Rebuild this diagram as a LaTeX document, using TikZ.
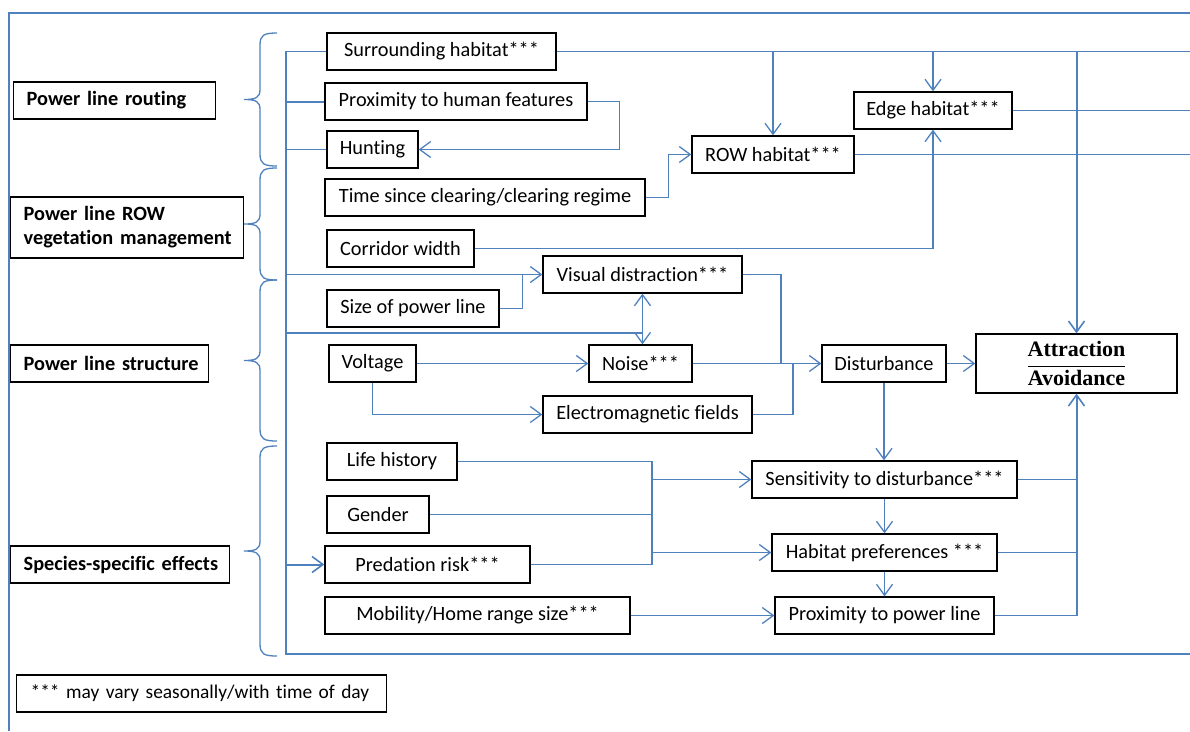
\documentclass[tikz,border=0pt]{standalone}
\usepackage{fontspec}
\setmainfont{Carlito}[Ligatures=NoCommon]
\newfontfamily\serifb{Liberation Serif}
\usetikzlibrary{arrows.meta,calc}
\definecolor{lblue}{HTML}{4F81BD}
\newcommand\mybrace[2]{%
  \draw[brc] (277,#1) .. controls (264,#1) and (260,#1+2) .. (260,#1+12)
    -- (260,{(#1+#2)/2-10}) .. controls (260,{(#1+#2)/2-2}) and (256,{(#1+#2)/2}) .. (244,{(#1+#2)/2})
    .. controls (256,{(#1+#2)/2}) and (260,{(#1+#2)/2+2}) .. (260,{(#1+#2)/2+10})
    -- (260,#2-12) .. controls (260,#2-2) and (264,#2) .. (277,#2);}
\begin{document}
\begin{tikzpicture}[x=1pt,y=-1pt,
  box/.style={draw=black, line width=1.3pt, fill=white, inner sep=0pt, minimum height=37pt, font=\fontsize{20.3}{23}\selectfont},
  lbl/.style={box, anchor=west, align=left, inner xsep=13pt, font=\fontsize{20.3}{24}\selectfont\bfseries},
  ln/.style={draw=lblue, line width=1.3pt},
  lnT/.style={draw=lblue, line width=2pt},
  arr/.style={ln, -{Straight Barb[length=11pt,width=16pt,line width=1.3pt]}},
  arrT/.style={lnT, -{Straight Barb[length=11pt,width=16pt,line width=1.6pt]}},
  brc/.style={draw=lblue, line width=1.3pt}
]
\useasboundingbox (0,0) rectangle (1190,731);
% frame
\draw[lblue, line width=1.5pt] (9,731) -- (9,13) -- (1190,13);
\coordinate (rEdge) at (1190,0);
\coordinate (busB) at (286,654);
\coordinate (jx) at (652,0);

% left labels
\node[lbl, text width=176pt] (route) at (13,100.5) {\mbox{Power line routing}};
\node[lbl, text width=207pt, minimum height=61pt] (rowm) at (10,227.5) {\mbox{Power line ROW}\\\mbox{vegetation management}};
\node[lbl, text width=172pt] (struct) at (10,363.5) {\mbox{Power line structure}};
\node[lbl, text width=193pt] (spec) at (10,564.5) {\mbox{Species-specific effects}};
\node[box, anchor=west, align=left, inner xsep=14pt, text width=342pt, font=\fontsize{19.4}{23}\selectfont] (note) at (16,693.5) {\mbox{*** may vary seasonally/with time of day}};

% braces
\mybrace{33}{166}
\mybrace{168}{280}
\mybrace{280}{441}
\mybrace{446}{656}

% nodes
\node[box, minimum width=229pt] (surr) at (441.5,51.5) {Surrounding habitat***};
\node[box, minimum width=262pt] (prox) at (456,101.5) {Proximity to human features};
\node[box, minimum width=91pt] (hunt) at (372.5,149.5) {Hunting};
\node[box, minimum width=320pt] (time) at (485,197.5) {Time since clearing/clearing regime};
\node[box, minimum width=147pt] (corr) at (400.5,248.5) {Corridor width};
\node[box, minimum width=199pt] (vis) at (642.5,274.5) {Visual distraction***};
\node[box, minimum width=172pt] (size) at (413,308.5) {Size of power line};
\node[box, minimum width=87pt] (volt) at (372.5,363.5) {Voltage};
\node[box, minimum width=103pt] (noise) at (640.5,363.5) {Noise***};
\node[box, minimum width=209pt] (emf) at (647.5,414.5) {Electromagnetic fields};
\node[box, minimum width=124pt] (dist) at (884,363.5) {Disturbance};
\node[box, minimum width=201pt, minimum height=59pt, font=\fontsize{22}{24}\selectfont] (attr) at (1076.5,363.5)
  {$\displaystyle\frac{\mbox{\serifb\bfseries Attraction}}{\mbox{\serifb\bfseries Avoidance}}$};
\node[box, minimum width=162pt] (row) at (773,154.5) {ROW habitat***};
\node[box, minimum width=158pt] (edge) at (933,110.5) {Edge habitat***};
\node[box, minimum width=130pt] (life) at (392,461.5) {Life history};
\node[box, minimum width=102pt] (gend) at (378,514.5) {Gender};
\node[box, minimum width=205pt] (pred) at (427.5,564.5) {Predation risk***};
\node[box, minimum width=305pt] (mob) at (477.5,615.5) {Mobility/Home range size***};
\node[box, minimum width=265pt] (sens) at (884.5,479.5) {Sensitivity to disturbance***};
\node[box, minimum width=225pt] (hab) at (884.5,552.5) {Habitat preferences ***};
\node[box, minimum width=219pt] (pprox) at (884.5,615.5) {Proximity to power line};

% top habitat lines
\draw[ln] (surr.east) -- (surr.east -| rEdge);
\draw[arr] (row.north |- surr.east) -- (row.north);
\draw[arr] (edge.north |- surr.east) -- (edge.north);
\draw[arrT] (attr.north |- surr.east) -- (attr.north);
\draw[arr] (prox.east) -- ++(32,0) |- (hunt.east);
\draw[arr] (time.east) -- ++(23,0) |- (row.west);
\draw[arr] (corr.east) -| (edge.south);
\draw[ln] (edge.east) -- (edge.east -| rEdge);
\draw[ln] (row.east) -- (row.east -| rEdge);

% left bus
\draw[ln] (surr.west) -| (prox.west -| busB);
\draw[lnT] (prox.west) -| (busB) -- (busB -| rEdge);
\draw[ln] (hunt.west) -- (hunt.west -| busB);
\draw[arr] (vis.west -| busB) -- (vis.west);
\coordinate (j1) at ($(size.east)+(23,0)$);
\draw[ln] (size.east) -- (j1) -- (j1 |- vis.west);
\coordinate (j0) at (0,333);
\draw[lnT] (j0 -| busB) -- (j0 -| vis.south);
\draw[arr] (j0 -| vis.south) -- (vis.south);
\draw[arr] (j0 -| vis.south) -- (vis.south |- noise.north);
\draw[arrT] (pred.west -| busB) -- (pred.west);

% disturbance
\coordinate (j2) at (781,363.5);
\coordinate (j3) at (793,363.5);
\draw[ln] (vis.east) -| (j2);
\draw[ln] (emf.east) -| (j3);
\draw[arr] (noise.east) -- (dist.west);
\draw[arr] (volt.east) -- (noise.west);
\draw[arr] (volt.south) |- (emf.west);
\draw[arr] (dist.east) -- (attr.west);
\draw[arr] (dist.south) -- (dist.south |- sens.north);

% species
\draw[ln] (life.east) -| (jx |- pred.east) -- (pred.east);
\draw[ln] (gend.east) -- (gend.east -| jx);
\draw[arr] (jx |- sens.west) -- (sens.west);
\draw[arr] (jx |- hab.west) -- (hab.west);
\draw[arr] (mob.east) -- (pprox.west);
\draw[arr] (sens.south) -- (hab.north);
\draw[arr] (hab.south) -- (pprox.north);
\draw[ln] (sens.east) -- (sens.east -| attr.south);
\draw[ln] (hab.east) -- (hab.east -| attr.south);
\draw[ln] (pprox.east) -- (pprox.east -| attr.south);
\draw[arrT] (pprox.east -| attr.south) -- (attr.south);
\end{tikzpicture}
\end{document}
